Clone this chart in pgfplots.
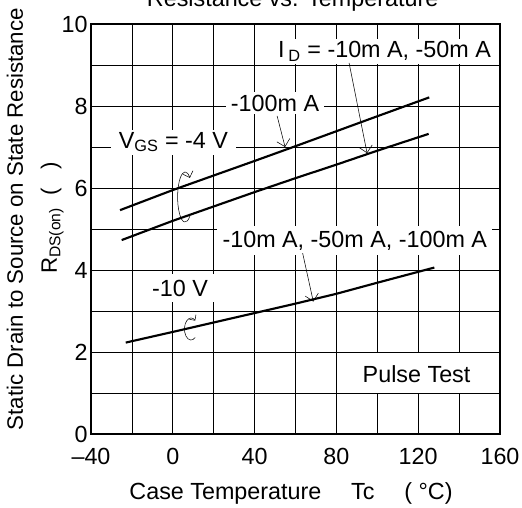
\documentclass[border=0pt]{standalone}
\usepackage{fontspec}
\setmainfont{Liberation Sans}
\usepackage{pgfplots}
\pgfplotsset{compat=1.18}
\usetikzlibrary{arrows.meta}

\newcommand{\fs}{\fontsize{17.5}{20}\selectfont}

\begin{document}
\begin{tikzpicture}[font=\fs]
\begin{axis}[
    width=306.75pt, height=307.5pt, scale only axis,
    xmin=-40, xmax=160, ymin=0, ymax=10,
    xtick={-40,0,40,80,120,160},
    xticklabels={--40,0,40,80,120,160},
    ytick={0,2,4,6,8,10},
    minor xtick={-20,20,60,100,140},
    minor ytick={1,3,5,7,9},
    grid=both,
    major grid style={black, line width=0.6pt},
    minor grid style={black, line width=0.6pt},
    major tick length=0pt, minor tick length=0pt,
    axis line style={line width=1.2pt},
    tick label style={font=\fs},
    xticklabel style={yshift=-7pt},
    yticklabel style={xshift=1pt},
    /pgf/number format/assume math mode=true,
    clip=false,
]
\coordinate (bl) at (rel axis cs:0,0);
\coordinate (tr) at (rel axis cs:1,1);

% V_GS = -4 V, I_D = -100 mA
\addplot[black, line width=1.6pt] coordinates {
    (-25.8,5.46)(0,5.95)(40,6.66)(60,7.02)(100,7.75)(125.4,8.21)
};
% V_GS = -4 V, I_D = -10 mA, -50 mA
\addplot[black, line width=1.6pt] coordinates {
    (-25,4.73)(0,5.20)(40,5.90)(60,6.24)(80,6.57)(100,6.91)(125.1,7.32)
};
% V_GS = -10 V
\addplot[black, line width=1.6pt] coordinates {
    (-23,2.23)(0,2.49)(40,2.95)(60,3.18)(80,3.42)(100,3.69)(127.9,4.06)
};

% labels
\node[fill=white, inner xsep=3pt, inner ysep=2pt] at (axis cs:103.5,9.33)
    {I\kern3pt\textsubscript{D} = -10m A, -50m A};
\node[fill=white, inner xsep=4pt, inner ysep=2pt] at (axis cs:50,8.07) {-100m A};
\node[fill=white, inner xsep=6pt, inner ysep=2pt] at (axis cs:0.3,7.12)
    {V\textsubscript{GS} = -4 V};
\node[fill=white, inner xsep=4pt, inner ysep=4pt] at (axis cs:89,4.72)
    {-10m A, -50m A, -100m A};
\node[fill=white, inner xsep=6pt, inner ysep=4pt] at (axis cs:3.5,3.56) {-10 V};
\node[fill=white, minimum width=105pt, minimum height=30pt] at (axis cs:123.3,1.5) {};
\node at (axis cs:119.2,1.46) {Pulse Test};

% pointer arrows
\draw[-{Straight Barb[length=5pt]}, line width=0.4pt] (axis cs:86.2,9.05) -- (axis cs:95,6.85);
\draw[-{Straight Barb[length=5pt]}, line width=0.4pt] (axis cs:51,7.76) -- (axis cs:54.9,7.0);
\draw[-{Straight Barb[length=5pt]}, line width=0.4pt] (axis cs:63.5,4.41) -- (axis cs:68.7,3.23);

% curls
\draw[-{Straight Barb[length=4pt]}, line width=0.4pt] (axis cs:6,5.78) ++(-50:5.6pt and 18.75pt)
    arc[start angle=-50, end angle=-310, x radius=5.6pt, y radius=18.75pt];
\draw[-{Straight Barb[length=3pt]}, line width=0.4pt] (axis cs:8.9,2.56) ++(-50:4.9pt and 8.25pt)
    arc[start angle=-50, end angle=-310, x radius=4.9pt, y radius=8.25pt];

% title and axis labels
\node[anchor=base] at ([yshift=12.75pt]rel axis cs:0.493,1) {Resistance vs. Temperature};
\node[anchor=base] at ([yshift=-48.75pt]rel axis cs:0.489,0)
    {Case Temperature\quad\ Tc\quad\ ( °C)};
\node[anchor=base, rotate=90, font=\fontsize{16.7}{19}\selectfont] at ([xshift=-51pt]rel axis cs:0,0.524)
    {Static Drain to Source on State Resistance};
\node[anchor=base, rotate=90, font=\fontsize{16.7}{19}\selectfont] at ([xshift=-25.5pt]rel axis cs:0,0.527)
    {R\textsubscript{DS(on)}\ \ (\ \ \ )};
\end{axis}
\pgfresetboundingbox
\path[use as bounding box] ([xshift=-68.25pt,yshift=-54.75pt]bl) rectangle ([xshift=16.5pt,yshift=18pt]tr);
\end{tikzpicture}
\end{document}
